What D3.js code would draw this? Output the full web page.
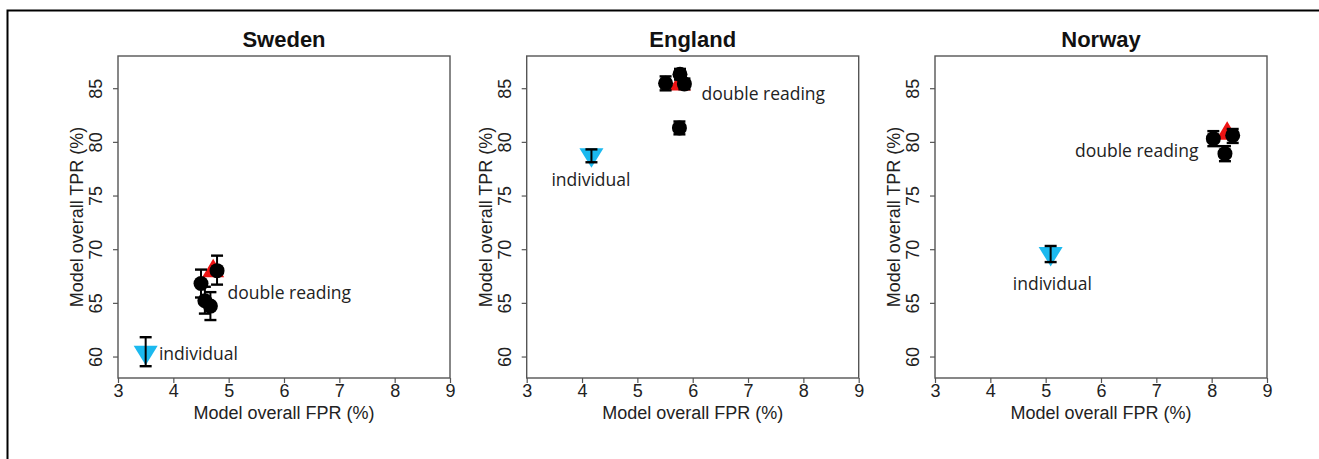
<!DOCTYPE html>
<html>
<head>
<meta charset="utf-8">
<script src="https://cdn.jsdelivr.net/npm/d3@7"></script>
<style>
  body { margin: 0; background: #fff; }
  svg { display: block; }
  .tick text { font-family: "Liberation Sans", Arial, sans-serif; font-size: 18px; fill: #222; }
  .title { font-family: "Liberation Sans", Arial, sans-serif; font-size: 22px; font-weight: bold; fill: #111; }
  .axis-title { font-family: "Liberation Sans", Arial, sans-serif; font-size: 18px; fill: #222; }
  .note { font-family: "Open Sans", "Noto Sans", sans-serif; font-size: 17.5px; fill: #222; }
</style>
</head>
<body>
<svg id="chart"></svg>
<script>
const W = 1319, H = 459;

// data: [FPR, TPR, lower, upper]
const countries = ["Sweden", "England", "Norway"];
const xTicks = [3, 4, 5, 6, 7, 8, 9];
const yTicks = [60, 65, 70, 75, 80, 85];

const individual = [
  [3.50, 60.4, 59.1, 61.8],
  [4.17, 78.8, 78.1, 79.3],
  [5.09, 69.6, 68.8, 70.3]
];
const doubleReading = [
  [4.72, 68.0, 66.7, 69.4],
  [5.77, 85.4, 84.9, 85.9],
  [8.28, 80.8, 80.2, 81.4]
];
const combos = [
  [[4.79, 68.0, 66.7, 69.4], [4.50, 66.8, 65.5, 68.1], [4.57, 65.2, 64.0, 66.5], [4.67, 64.7, 63.4, 66.0]],
  [[5.51, 85.45, 84.8, 86.1], [5.77, 86.3, 85.8, 86.8], [5.85, 85.4, 84.9, 85.9], [5.76, 81.3, 80.7, 81.9]],
  [[8.03, 80.3, 79.6, 81.0], [8.24, 78.9, 78.2, 79.6], [8.38, 80.6, 79.9, 81.2]]
];
// label anchors in data units: [x, y]
const doubleLabelAt = [[4.98, 65.35], [6.16, 83.9], [5.53, 78.6]];
const indivLabelAt = [[3.74, 59.7], [4.16, 75.9], [5.12, 66.2]];

const svg = d3.select("#chart").attr("width", W).attr("height", H);

// outer frame (only top and left show inside the window)
svg.append("rect")
  .attr("x", 7.5).attr("y", 10.5)
  .attr("width", W + 20).attr("height", H + 20)
  .attr("fill", "none").attr("stroke", "#000").attr("stroke-width", 2);

const panelLeft = [118, 526.7, 935];
const plotTop = 56, plotBottom = 378, pw = 332;

const blue = "#1bb9ef", red = "#ee1313";

function errBar(g, x, y, d) {
  const cx = x(d[0]);
  g.append("line").attr("x1", cx).attr("x2", cx).attr("y1", y(d[2])).attr("y2", y(d[3]))
    .attr("stroke", "#000").attr("stroke-width", 2);
  [d[2], d[3]].forEach(v => {
    g.append("line").attr("x1", cx - 6).attr("x2", cx + 6).attr("y1", y(v)).attr("y2", y(v))
      .attr("stroke", "#000").attr("stroke-width", 2.4);
  });
}

countries.forEach((name, i) => {
  const x = d3.scaleLinear().domain([3, 9]).range([panelLeft[i], panelLeft[i] + pw]);
  const y = d3.scaleLinear().domain([58, 88]).range([plotBottom, plotTop]);
  const g = svg.append("g");

  g.append("rect")
    .attr("x", x(3)).attr("y", plotTop).attr("width", pw).attr("height", plotBottom - plotTop)
    .attr("fill", "none").attr("stroke", "#555").attr("stroke-width", 1.4);

  const xAxis = g.append("g")
    .attr("transform", `translate(0,${plotBottom})`)
    .call(d3.axisBottom(x).tickValues(xTicks).tickFormat(d3.format("d")).tickSize(5).tickSizeOuter(0));
  xAxis.select(".domain").remove();
  xAxis.selectAll(".tick line").attr("stroke", "#555").attr("stroke-width", 1.2);
  xAxis.selectAll(".tick text").attr("y", 19).attr("dy", 0);

  const yAxis = g.append("g")
    .attr("transform", `translate(${x(3)},0)`)
    .call(d3.axisLeft(y).tickValues(yTicks).tickFormat(d3.format("d")).tickSize(5).tickSizeOuter(0));
  yAxis.select(".domain").remove();
  yAxis.selectAll(".tick line").attr("stroke", "#555").attr("stroke-width", 1.2);
  yAxis.selectAll(".tick text")
    .attr("transform", "rotate(-90)")
    .attr("x", 0).attr("y", -16).attr("dy", 0)
    .attr("text-anchor", "middle");

  const cxMid = x(6);
  g.append("text").attr("class", "title")
    .attr("x", cxMid).attr("y", 47).attr("text-anchor", "middle").text(name);
  g.append("text").attr("class", "axis-title")
    .attr("x", cxMid).attr("y", 419).attr("text-anchor", "middle").text("Model overall FPR (%)");
  g.append("text").attr("class", "axis-title")
    .attr("transform", `translate(${x(3) - 35},${(plotTop + plotBottom) / 2}) rotate(-90)`)
    .attr("text-anchor", "middle").text("Model overall TPR (%)");

  // markers
  const ind = individual[i];
  const bx = x(ind[0]), by = y(ind[1]);
  g.append("path")
    .attr("d", `M${bx - 12},${by - 6.5}L${bx + 12},${by - 6.5}L${bx},${by + 13}Z`)
    .attr("fill", blue);

  const dr = doubleReading[i];
  const rx = x(dr[0]), ry = y(dr[1]);
  g.append("path")
    .attr("d", `M${rx - 11},${ry + 6.5}L${rx + 11},${ry + 6.5}L${rx},${ry - 12}Z`)
    .attr("fill", red);

  g.selectAll("circle.combo")
    .data(combos[i])
    .enter()
    .append("circle")
    .attr("class", "combo")
    .attr("cx", d => x(d[0]))
    .attr("cy", d => y(d[1]))
    .attr("r", 7.5)
    .attr("fill", "#000");

  // error bars on top
  errBar(g, x, y, ind);
  combos[i].forEach(d => errBar(g, x, y, d));

  g.append("text").attr("class", "note")
    .attr("x", x(doubleLabelAt[i][0])).attr("y", y(doubleLabelAt[i][1]))
    .text("double reading");
  g.append("text").attr("class", "note")
    .attr("x", x(indivLabelAt[i][0])).attr("y", y(indivLabelAt[i][1]))
    .attr("text-anchor", i === 0 ? "start" : "middle")
    .text("individual");
});
</script>
</body>
</html>
